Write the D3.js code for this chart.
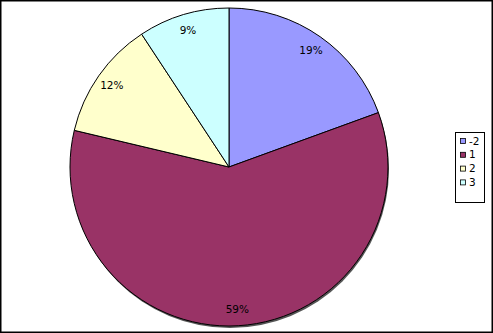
<!DOCTYPE html>
<html>
<head>
<meta charset="utf-8">
<script src="https://cdn.jsdelivr.net/npm/d3@7"></script>
<style>
  body { margin: 0; background: #fff; }
  text { font-family: "DejaVu Sans", sans-serif; font-size: 10.5px; fill: #000; }
</style>
</head>
<body>
<script>
// pie chart data
var categories = ["-2", "1", "2", "3"];
var values = [21, 64, 13, 10];
var colors = ["#9999ff", "#993366", "#ffffcc", "#ccffff"];

var width = 493, height = 333;
var cx = 229, cy = 167, radius = 159;

var svg = d3.select("body")
  .append("svg")
    .attr("width", width)
    .attr("height", height);

// outer frame
svg.append("rect")
  .attr("x", 0.75)
  .attr("y", 0.75)
  .attr("width", width - 1.5)
  .attr("height", height - 1.5)
  .attr("fill", "#fff")
  .attr("stroke", "#000")
  .attr("stroke-width", 1.5);

var data = categories.map(function(c, i) { return { cat: c, value: values[i] }; });
var total = d3.sum(values);

var pie = d3.pie()
  .sort(null)
  .value(function(d) { return d.value; });

var arc = d3.arc()
  .innerRadius(0)
  .outerRadius(radius);

var labelArc = d3.arc()
  .innerRadius(143)
  .outerRadius(143);

var color = d3.scaleOrdinal()
  .domain(categories)
  .range(colors);

var g = svg.append("g")
  .attr("transform", "translate(" + cx + "," + cy + ")");

// slight shadow under the pie
g.append("circle")
  .attr("cx", 1)
  .attr("cy", 2)
  .attr("r", radius)
  .attr("fill", "#555");

var arcs = pie(data);

g.selectAll("path.slice")
  .data(arcs)
  .enter().append("path")
    .attr("class", "slice")
    .attr("d", arc)
    .attr("fill", function(d) { return color(d.data.cat); })
    .attr("stroke", "#000")
    .attr("stroke-width", 1);

// percentage labels
g.selectAll("text.pct")
  .data(arcs)
  .enter().append("text")
    .attr("class", "pct")
    .attr("transform", function(d) { return "translate(" + labelArc.centroid(d) + ")"; })
    .attr("text-anchor", "middle")
    .attr("dy", "0.35em")
    .text(function(d) { return Math.round(d.data.value / total * 100) + "%"; });

// legend
var legend = svg.append("g")
  .attr("transform", "translate(455,132)");

legend.append("rect")
  .attr("x", 0.5)
  .attr("y", 0.5)
  .attr("width", 29)
  .attr("height", 70)
  .attr("fill", "#fff")
  .attr("stroke", "#000");

var item = legend.selectAll("g.item")
  .data(categories)
  .enter().append("g")
    .attr("class", "item")
    .attr("transform", function(d, i) { return "translate(0," + (9 + i * 13.8) + ")"; });

item.append("rect")
  .attr("x", 5.5)
  .attr("y", -2.5)
  .attr("width", 5)
  .attr("height", 5)
  .attr("fill", function(d) { return color(d); })
  .attr("stroke", "#000")
  .attr("stroke-width", 0.8);

item.append("text")
  .attr("x", 14)
  .attr("dy", "0.35em")
  .text(function(d) { return d; });
</script>
</body>
</html>
